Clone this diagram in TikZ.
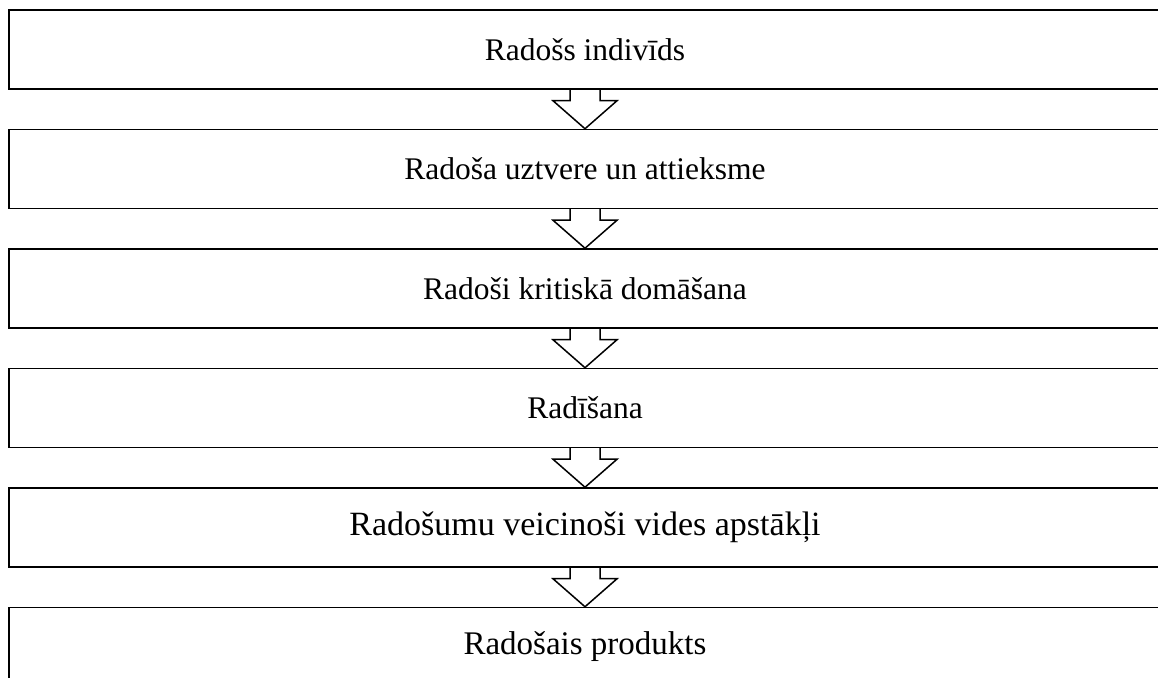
\documentclass[tikz,border=0pt]{standalone}
\usepackage{fontspec}
\setmainfont{Liberation Serif}
\usetikzlibrary{positioning}
\begin{document}
\begin{tikzpicture}[x=1pt,y=1pt]
  \tikzstyle{every node}=[rectangle, minimum width=1152pt, minimum height=79pt, inner sep=0pt, text centered, draw=black, line width=1.5pt, font=\fontsize{31.5}{36}\selectfont]
  \useasboundingbox (0,0) rectangle (1158,679);
  \clip (0,1.5) rectangle (1158,679);
  \node (B1) at (585,629.5) {Radošs indivīds};
  \node[below=39pt of B1] (B2) {Radoša uztvere un attieksme};
  \node[below=39pt of B2] (B3) {Radoši kritiskā domāšana};
  \node[below=39pt of B3] (B4) {Radīšana};
  \node[below=39pt of B4, font=\fontsize{34}{38}\selectfont] (B5) {Radošumu veicinoši vides apstākļi};
  \node[below=39pt of B5, font=\fontsize{33}{38}\selectfont] (B6) {Radošais produkts};
  \foreach \a/\b in {B1/B2, B2/B3, B3/B4, B4/B5, B5/B6}
    \draw[line width=1.5pt] ([xshift=-15pt]\a.south) -- ++(0,-11) -- ++(-17,0) -- (\b.north) -- ([xshift=32pt, yshift=28pt]\b.north) -- ++(-17,0) -- ([xshift=15pt]\a.south);
\end{tikzpicture}
\end{document}
